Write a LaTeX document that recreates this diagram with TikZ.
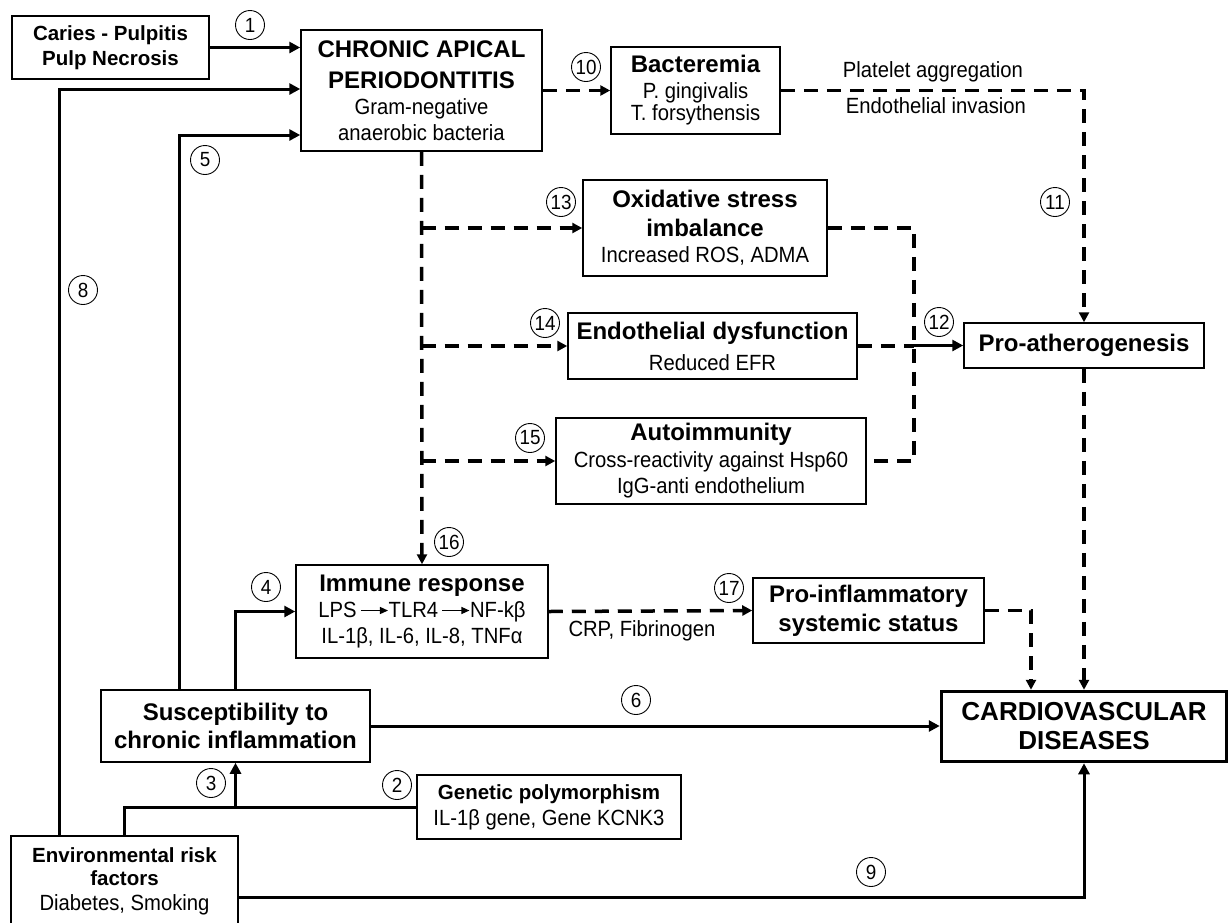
\documentclass[tikz,border=0pt]{standalone}
\usepackage{fontspec}
\setmainfont{Liberation Sans}
\newfontfamily\bodyfam[FakeStretch=0.92]{Liberation Sans}
\usetikzlibrary{arrows.meta}
\newcommand\fTitle{\normalfont\bfseries\fontsize{24}{29}\selectfont}
\newcommand\fSmall{\normalfont\bfseries\fontsize{20.5}{25}\selectfont}
\newcommand\fBody{\bodyfam\mdseries\fontsize{22}{26}\selectfont}
\newcommand\fCVD{\normalfont\bfseries\fontsize{26}{29}\selectfont}
\newcommand\fNum{\bodyfam\mdseries\fontsize{20.5}{20}\selectfont}
\newcommand\iarr{\tikz[baseline=-0.6ex]\draw[line width=1.3pt,solid,-{Triangle[length=8pt,width=7pt]}] (0pt,0pt)--(27pt,0pt);}
\begin{document}
\begin{tikzpicture}[x=1pt,y=-1pt,
  box/.style={draw,line width=1.5pt,inner sep=0pt,align=center,font=\fBody},
  num/.style={draw,circle,line width=0.9pt,minimum size=29pt,inner sep=0pt,font=\fNum},
  lbl/.style={font=\fBody,inner sep=0pt,anchor=base},
  arr/.style={line width=3pt,-{Triangle[length=11pt,width=11pt]}},
  sol/.style={line width=3pt},
  dsh/.style={line width=3.5pt,dash pattern=on 14pt off 9pt},
  darr/.style={dsh,-{Triangle[length=10pt,width=10pt]}}]
\useasboundingbox (0,0) rectangle (1229,922);
% boxes
\node[box,font=\fSmall,minimum width=197,minimum height=63] (caries) at (110.5,47.5) {Caries - Pulpitis\\Pulp Necrosis};
\node[box,minimum width=241,minimum height=121] (cap) at (421.5,90.5) {\fTitle CHRONIC APICAL\\[5pt] \fTitle PERIODONTITIS\\ Gram-negative\\ anaerobic bacteria};
\node[box,minimum width=169,minimum height=87] (bact) at (695.5,90.5) {\fTitle Bacteremia\\ P. gingivalis\\[-4pt] T. forsythensis};
\node[box,minimum width=244,minimum height=96] (oxid) at (705,228) {\fTitle Oxidative stress\\[3pt] \fTitle imbalance\\ Increased ROS, ADMA};
\node[box,minimum width=289,minimum height=66] (endo) at (712.5,346) {\fTitle Endothelial dysfunction\\[5pt] Reduced EFR};
\node[box,minimum width=310,minimum height=86] (auto) at (711,461) {\fTitle Autoimmunity\\[1pt] Cross-reactivity against Hsp60\\ IgG-anti endothelium};
\node[box,font=\fTitle,minimum width=240,minimum height=45] (proath) at (1084,345.5) {Pro-atherogenesis};
\node[box,minimum width=252,minimum height=93] (immune) at (422,611.5) {\fTitle Immune response\\ LPS\,\iarr TLR4\,\iarr NF-kβ\\ IL-1β, IL-6, IL-8, TNFα};
\node[box,font=\fTitle,minimum width=231,minimum height=65] (proinfl) at (868.5,610.5) {Pro-inflammatory\\ systemic status};
\node[box,font=\fTitle,minimum width=269,minimum height=72] (susc) at (235.5,726) {Susceptibility to\\[-1pt] chronic inflammation};
\node[box,font=\fCVD,line width=3.5pt,minimum width=285,minimum height=70] (cvd) at (1084,726.5) {CARDIOVASCULAR\\ DISEASES};
\node[box,minimum width=264,minimum height=64] (gen) at (549,807) {\fSmall Genetic polymorphism\\ IL-1β gene, Gene KCNK3};
\node[box,minimum width=227,minimum height=90] (env) at (124.5,881) {\fSmall Environmental risk\\[-3pt] \fSmall factors\\[-1pt] Diabetes, Smoking};
% helper coordinates
\coordinate (c8) at (59,0);
\coordinate (r8) at (0,89);
\coordinate (c5) at (179,0);
\coordinate (r5) at (0,135);
\coordinate (r3) at (0,808);
\coordinate (r9) at (0,897);
\coordinate (c12) at (914,0);
\coordinate (c17) at (1031,0);
% solid connectors
\draw[arr] (caries.east) -- (caries.east -| cap.west);
\draw[arr] (env.north -| c8) |- (cap.west |- r8);
\draw[arr] (susc.north -| c5) |- (cap.west |- r5);
\draw[arr] (susc.north) |- (immune.west);
\draw[sol] (env.north) |- (gen.west);
\draw[arr] (susc.south |- r3) -- (susc.south);
\draw[arr] (susc.east) -- (susc.east -| cvd.west);
\draw[arr] (env.east |- r9) -| (cvd.south);
\draw[arr] (c12 |- proath.west) -- (proath.west);
% dashed connectors
\draw[darr] (cap.east) -- (bact.west);
\draw[darr] (bact.east) -| (proath.north);
\draw[darr] (cap.south) -- (immune.north);
\draw[darr] (cap.south |- oxid.west) -- (oxid.west);
\draw[darr] (cap.south |- endo.west) -- (endo.west);
\draw[darr] (cap.south |- auto.west) -- (auto.west);
\draw[dsh] (oxid.east) -| (c12 |- auto.east) -- (auto.east);
\draw[dsh] (endo.east) -- (c12 |- endo.east);
\draw[darr] (proath.south) -- (cvd.north);
\draw[darr] (immune.east) -- (proinfl.west);
\draw[darr] (proinfl.east) -| (c17 |- cvd.north);
% labels
\node[lbl] (lpa) at (933,77) {Platelet aggregation};
\node[lbl] (lei) at (936,113) {Endothelial invasion};
\node[lbl] (lcrp) at (642,636) {CRP, Fibrinogen};
% numbers
\node[num] (n1) at (250,25) {1};
\node[num] (n2) at (397,785) {2};
\node[num] (n3) at (211,783) {3};
\node[num] (n4) at (266,587) {4};
\node[num] (n5) at (205,160) {5};
\node[num] (n6) at (636,700) {6};
\node[num] (n8) at (83,290) {8};
\node[num] (n9) at (871,872) {9};
\node[num] (n10) at (586,67) {10};
\node[num] (n11) at (1055,202) {11};
\node[num] (n12) at (939,322) {12};
\node[num] (n13) at (561,202) {13};
\node[num] (n14) at (545,323) {14};
\node[num] (n15) at (530,438) {15};
\node[num] (n16) at (449,542) {16};
\node[num] (n17) at (729,588) {17};
\end{tikzpicture}
\end{document}
